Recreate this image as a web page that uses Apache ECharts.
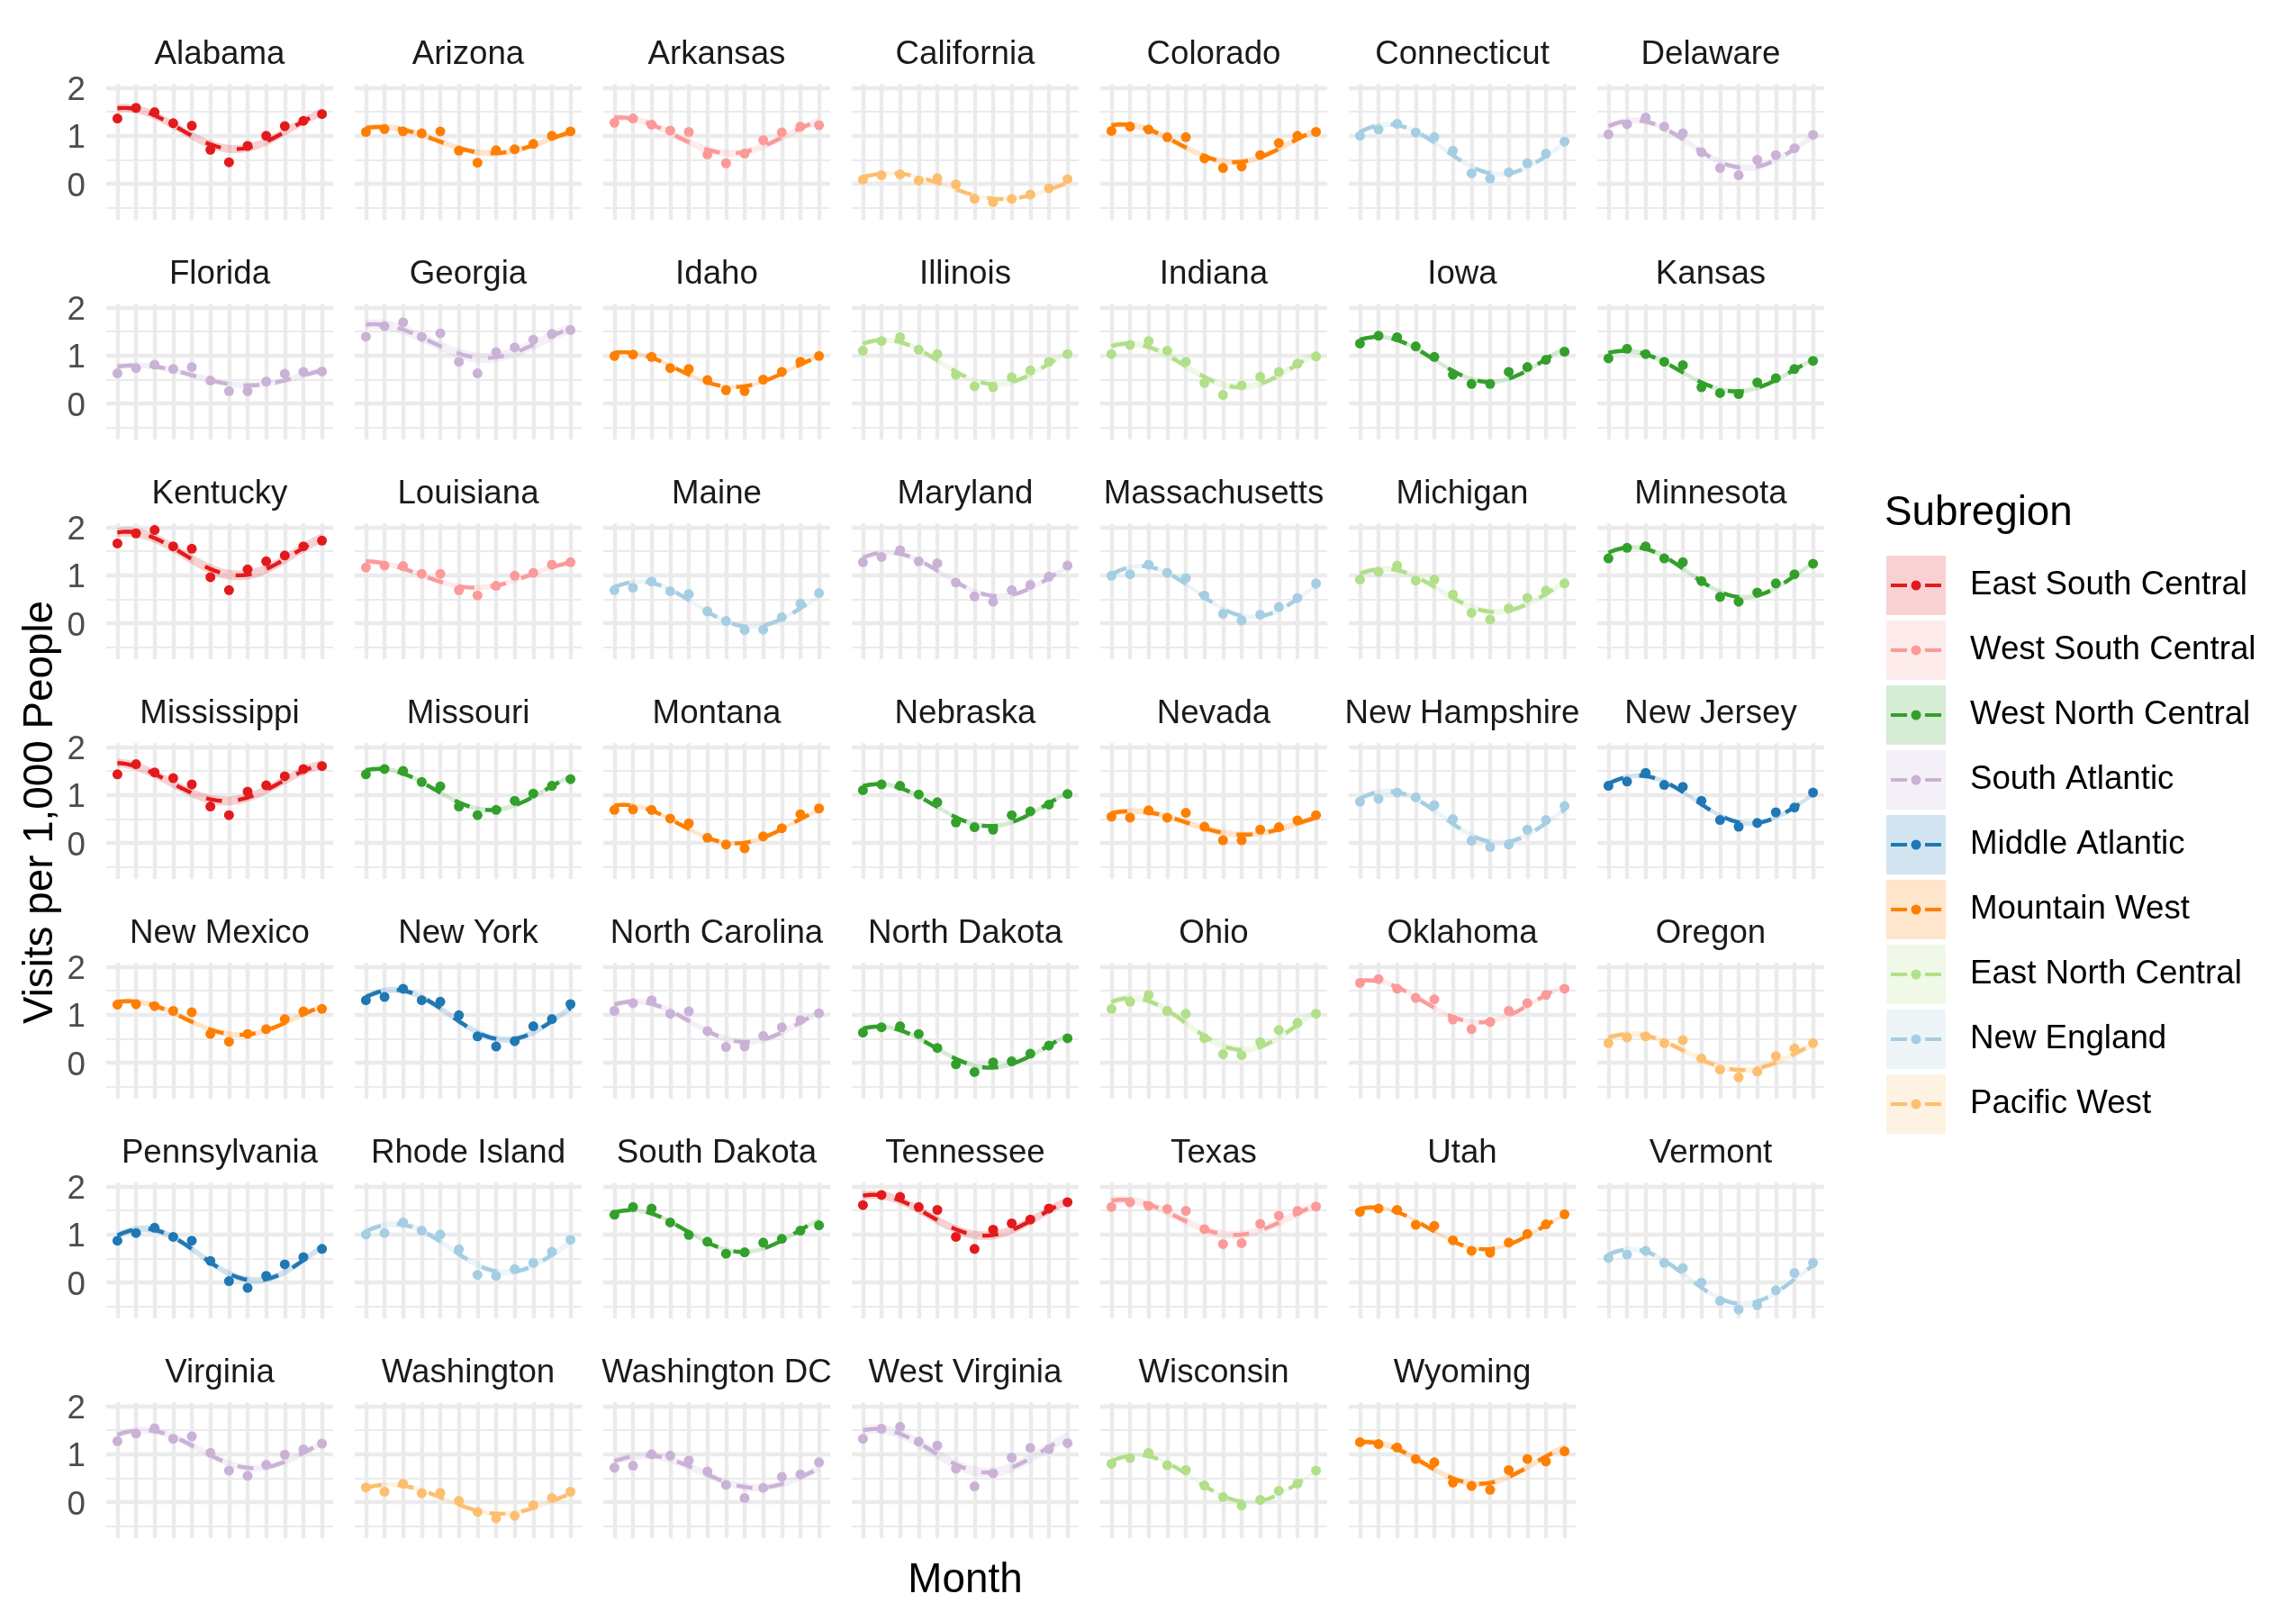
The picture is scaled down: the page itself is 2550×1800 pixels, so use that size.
<!DOCTYPE html>
<html>
<head>
<meta charset="utf-8">
<script src="https://cdn.jsdelivr.net/npm/echarts@6/dist/echarts.min.js"></script>
<style>
html,body{margin:0;padding:0;background:#ffffff;}
#chart{width:2550px;height:1800px;}
</style>
</head>
<body>
<div id="chart"></div>
<script>
// ---------------- data ----------------
const MONTHS = [1,2,3,4,5,6,7,8,9,10,11,12];
const Y_LABELS = [0,1,2];
const Y_MAJOR = [0,1,2];
const Y_MINOR = [-0.5,0.5,1.5];

const SUBREGIONS = ["East South Central","West South Central","West North Central","South Atlantic","Middle Atlantic","Mountain West","East North Central","New England","Pacific West"];
const SUBREGION_COLORS = ["#E31A1C","#FB9A99","#33A02C","#CAB2D6","#1F78B4","#FF7F00","#B2DF8A","#A6CEE3","#FDBF6F"];

const STATES = ["Alabama","Arizona","Arkansas","California","Colorado","Connecticut","Delaware",
"Florida","Georgia","Idaho","Illinois","Indiana","Iowa","Kansas",
"Kentucky","Louisiana","Maine","Maryland","Massachusetts","Michigan","Minnesota",
"Mississippi","Missouri","Montana","Nebraska","Nevada","New Hampshire","New Jersey",
"New Mexico","New York","North Carolina","North Dakota","Ohio","Oklahoma","Oregon",
"Pennsylvania","Rhode Island","South Dakota","Tennessee","Texas","Utah","Vermont",
"Virginia","Washington","Washington DC","West Virginia","Wisconsin","Wyoming"];

const STATE_SUBREGION = ["East South Central","Mountain West","West South Central","Pacific West","Mountain West","New England","South Atlantic",
"South Atlantic","South Atlantic","Mountain West","East North Central","East North Central","West North Central","West North Central",
"East South Central","West South Central","New England","South Atlantic","New England","East North Central","West North Central",
"East South Central","West North Central","Mountain West","West North Central","Mountain West","New England","Middle Atlantic",
"Mountain West","Middle Atlantic","South Atlantic","West North Central","East North Central","West South Central","Pacific West",
"Middle Atlantic","New England","West North Central","East South Central","West South Central","Mountain West","New England",
"South Atlantic","Pacific West","South Atlantic","South Atlantic","East North Central","Mountain West"];

const alabama       = [1.36,1.58,1.49,1.26,1.21,0.71,0.45,0.79,1.00,1.20,1.31,1.45];
const arizona       = [1.08,1.14,1.09,1.05,1.09,0.69,0.44,0.70,0.72,0.83,1.00,1.09];
const arkansas      = [1.27,1.36,1.23,1.11,1.08,0.61,0.43,0.63,0.91,1.07,1.19,1.22];
const california    = [0.09,0.18,0.20,0.07,0.12,-0.01,-0.31,-0.38,-0.31,-0.22,-0.09,0.10];
const colorado      = [1.10,1.19,1.13,0.97,0.97,0.53,0.33,0.36,0.60,0.85,1.00,1.08];
const connecticut   = [1.00,1.13,1.25,1.07,0.97,0.69,0.22,0.11,0.24,0.43,0.63,0.88];
const delaware      = [1.03,1.24,1.38,1.19,1.05,0.66,0.33,0.18,0.50,0.60,0.74,1.02];
const florida       = [0.63,0.74,0.81,0.72,0.76,0.48,0.26,0.26,0.46,0.62,0.66,0.67];
const georgia       = [1.39,1.61,1.69,1.39,1.46,0.87,0.63,1.07,1.17,1.33,1.45,1.53];
const idaho         = [0.99,1.02,0.97,0.74,0.72,0.49,0.28,0.26,0.50,0.66,0.87,0.99];
const illinois      = [1.10,1.30,1.38,1.12,1.03,0.60,0.36,0.34,0.55,0.69,0.87,1.03];
const indiana       = [1.03,1.22,1.30,1.10,0.87,0.43,0.18,0.38,0.56,0.66,0.83,0.98];
const iowa          = [1.25,1.41,1.38,1.19,0.97,0.60,0.41,0.41,0.66,0.76,0.91,1.08];
const kansas        = [0.94,1.14,1.03,0.87,0.80,0.34,0.22,0.20,0.44,0.53,0.72,0.89];
const kentucky      = [1.66,1.87,1.94,1.60,1.55,0.96,0.69,1.12,1.29,1.41,1.60,1.72];
const louisiana     = [1.16,1.20,1.19,1.03,1.03,0.69,0.58,0.78,0.99,1.05,1.22,1.27];
const maine         = [0.69,0.74,0.87,0.67,0.61,0.25,0.05,-0.14,-0.13,0.13,0.41,0.63];
const maryland      = [1.27,1.38,1.52,1.29,1.25,0.85,0.56,0.45,0.69,0.80,0.97,1.20];
const massachusetts = [0.99,1.02,1.22,1.05,0.94,0.58,0.20,0.06,0.18,0.34,0.53,0.83];
const michigan      = [0.91,1.07,1.20,0.89,0.91,0.60,0.22,0.08,0.31,0.53,0.68,0.83];
const minnesota     = [1.35,1.57,1.60,1.35,1.27,0.88,0.55,0.45,0.64,0.83,1.02,1.24];
const mississippi   = [1.43,1.64,1.47,1.35,1.22,0.76,0.58,1.07,1.20,1.39,1.54,1.60];
const missouri      = [1.43,1.54,1.50,1.27,1.18,0.76,0.58,0.69,0.88,1.03,1.19,1.33];
const montana       = [0.69,0.70,0.69,0.51,0.41,0.11,-0.03,-0.11,0.14,0.31,0.60,0.72];
const nebraska      = [1.10,1.22,1.19,1.01,0.85,0.43,0.33,0.28,0.58,0.66,0.80,1.02];
const nevada        = [0.55,0.53,0.68,0.53,0.63,0.34,0.06,0.06,0.28,0.33,0.47,0.58];
const newHampshire  = [0.86,0.92,1.05,0.95,0.79,0.50,0.05,-0.08,-0.03,0.28,0.48,0.77];
const newJersey     = [1.19,1.28,1.46,1.21,1.17,0.88,0.48,0.34,0.42,0.64,0.74,1.05];
const newMexico     = [1.21,1.22,1.18,1.08,1.05,0.60,0.44,0.60,0.70,0.91,1.07,1.12];
const newYork       = [1.30,1.37,1.54,1.30,1.27,0.99,0.55,0.34,0.45,0.76,0.91,1.22];
const northCarolina = [1.08,1.24,1.30,1.02,1.07,0.66,0.33,0.34,0.56,0.74,0.89,1.03];
const northDakota   = [0.63,0.74,0.76,0.60,0.31,-0.03,-0.19,0.01,0.03,0.19,0.36,0.51];
const ohio          = [1.12,1.27,1.41,1.08,1.02,0.51,0.18,0.16,0.43,0.68,0.83,1.02];
const oklahoma      = [1.66,1.74,1.54,1.35,1.32,0.90,0.70,0.85,1.08,1.24,1.41,1.54];
const oregon        = [0.41,0.53,0.55,0.41,0.47,0.09,-0.14,-0.30,-0.18,0.14,0.30,0.41];
const pennsylvania  = [0.87,1.03,1.14,0.95,0.87,0.45,0.03,-0.11,0.14,0.38,0.53,0.70];
const rhodeIsland   = [1.00,1.03,1.25,1.08,1.00,0.69,0.16,0.14,0.28,0.41,0.64,0.89];
const southDakota   = [1.41,1.57,1.54,1.25,0.99,0.85,0.60,0.63,0.83,0.91,1.08,1.19];
const tennessee     = [1.61,1.82,1.78,1.57,1.51,0.95,0.70,1.10,1.23,1.31,1.54,1.67];
const texas         = [1.57,1.67,1.59,1.53,1.49,1.11,0.80,0.82,1.22,1.39,1.49,1.58];
const utah          = [1.47,1.54,1.51,1.20,1.18,0.88,0.66,0.62,0.83,1.01,1.21,1.42];
const vermont       = [0.51,0.58,0.66,0.41,0.30,0.00,-0.38,-0.56,-0.47,-0.16,0.20,0.41];
const virginia      = [1.27,1.43,1.54,1.32,1.37,1.03,0.66,0.55,0.78,0.99,1.10,1.22];
const washington    = [0.31,0.22,0.39,0.19,0.20,0.03,-0.20,-0.33,-0.28,-0.06,0.09,0.22];
const washingtonDC  = [0.72,0.76,1.00,0.97,0.87,0.64,0.36,0.09,0.30,0.53,0.58,0.83];
const westVirginia  = [1.32,1.53,1.57,1.26,1.18,0.70,0.33,0.60,0.93,1.13,1.10,1.23];
const wisconsin     = [0.80,0.92,1.03,0.77,0.67,0.35,0.11,-0.07,0.05,0.24,0.39,0.66];
const wyoming       = [1.25,1.21,1.14,0.90,0.83,0.41,0.34,0.26,0.67,0.90,0.85,1.06];

const VISITS = [alabama,arizona,arkansas,california,colorado,connecticut,delaware,
florida,georgia,idaho,illinois,indiana,iowa,kansas,
kentucky,louisiana,maine,maryland,massachusetts,michigan,minnesota,
mississippi,missouri,montana,nebraska,nevada,newHampshire,newJersey,
newMexico,newYork,northCarolina,northDakota,ohio,oklahoma,oregon,
pennsylvania,rhodeIsland,southDakota,tennessee,texas,utah,vermont,
virginia,washington,washingtonDC,westVirginia,wisconsin,wyoming];

// ---------------- smoother: lm(y ~ sin(2*pi*x/12) + cos(2*pi*x/12)) with confidence band ----------------
const BAND_Z = 1.036433; // normal quantile for the band level used (~70%)
function solve3(A, b) {
  const M = A.map((r, i) => r.concat([b[i]]));
  for (let c = 0; c < 3; c++) {
    let p = c;
    for (let r = c + 1; r < 3; r++) if (Math.abs(M[r][c]) > Math.abs(M[p][c])) p = r;
    const tmp = M[c]; M[c] = M[p]; M[p] = tmp;
    for (let r = 0; r < 3; r++) {
      if (r === c) continue;
      const f = M[r][c] / M[c][c];
      for (let k = c; k < 4; k++) M[r][k] -= f * M[c][k];
    }
  }
  return [M[0][3] / M[0][0], M[1][3] / M[1][1], M[2][3] / M[2][2]];
}
function qtFromZ(z, df) {
  const z3 = z*z*z, z5 = z3*z*z, z7 = z5*z*z, z9 = z7*z*z;
  const g1 = (z3 + z) / 4, g2 = (5*z5 + 16*z3 + 3*z) / 96, g3 = (3*z7 + 19*z5 + 17*z3 - 15*z) / 384;
  const g4 = (79*z9 + 776*z7 + 1482*z5 - 1920*z3 - 945*z) / 92160;
  return z + g1/df + g2/(df*df) + g3/Math.pow(df,3) + g4/Math.pow(df,4);
}
function harmonicSmooth(xs, ys, gridXs, period) {
  const basis = x => [1, Math.sin(2 * Math.PI * x / period), Math.cos(2 * Math.PI * x / period)];
  const n = xs.length, p = 3;
  const XtX = [[0,0,0],[0,0,0],[0,0,0]], Xty = [0,0,0];
  xs.forEach((x, i) => {
    const f = basis(x);
    for (let a = 0; a < p; a++) { Xty[a] += f[a] * ys[i]; for (let b = 0; b < p; b++) XtX[a][b] += f[a] * f[b]; }
  });
  const inv = [solve3(XtX, [1,0,0]), solve3(XtX, [0,1,0]), solve3(XtX, [0,0,1])];
  const beta = [0,1,2].map(a => inv[a].reduce((s, v, b) => s + v * Xty[b], 0));
  const pred = x => basis(x).reduce((s, v, a) => s + v * beta[a], 0);
  const rss = xs.reduce((s, x, i) => s + (ys[i] - pred(x)) ** 2, 0);
  const sigma = Math.sqrt(rss / (n - p));
  const tq = qtFromZ(BAND_Z, n - p);
  return gridXs.map(g => {
    const f = basis(g);
    let v = 0;
    for (let a = 0; a < p; a++) for (let b = 0; b < p; b++) v += f[a] * inv[a][b] * f[b];
    const fit = pred(g), se = sigma * Math.sqrt(v);
    return { x: g, fit: fit, lo: fit - tq * se, hi: fit + tq * se };
  });
}

// ---------------- layout ----------------
const FONT = '"Liberation Sans", Arial, Helvetica, sans-serif';
const NCOL = 7;
const P_LEFT0 = 118, P_COLSTEP = 276, P_W = 252;
const P_TOP0 = 93.3, P_ROWSTEP = 244, P_H = 150.7;
const X_MIN = 0.4, X_MAX = 12.6, Y_MIN = -0.744, Y_MAX = 2.075;
const FIT_N = 80;
const FIT_GRID = [];
for (let k = 0; k < FIT_N; k++) FIT_GRID.push(MONTHS[0] + (MONTHS[MONTHS.length - 1] - MONTHS[0]) * k / (FIT_N - 1));

function rgba(hex, a) {
  const n = parseInt(hex.slice(1), 16);
  return 'rgba(' + ((n >> 16) & 255) + ',' + ((n >> 8) & 255) + ',' + (n & 255) + ',' + a + ')';
}
function colorOf(sub) { return SUBREGION_COLORS[SUBREGIONS.indexOf(sub)]; }

const grids = [], xAxes = [], yAxes = [], series = [], graphics = [];

STATES.forEach((state, i) => {
  const r = Math.floor(i / NCOL), c = i % NCOL;
  const left = P_LEFT0 + c * P_COLSTEP, top = P_TOP0 + r * P_ROWSTEP;
  const sub = STATE_SUBREGION[i];
  const col = colorOf(sub);
  const vals = VISITS[i];

  grids.push({ left: left, top: top, width: P_W, height: P_H, containLabel: false, outerBoundsMode: 'none' });
  xAxes.push({ gridIndex: i, type: 'value', min: X_MIN, max: X_MAX,
    axisLine: { show: false }, axisTick: { show: false }, axisLabel: { show: false }, splitLine: { show: false } });
  yAxes.push({ gridIndex: i, type: 'value', min: Y_MIN, max: Y_MAX,
    axisLine: { show: false }, axisTick: { show: false }, splitLine: { show: false },
    axisLabel: { show: c === 0, customValues: Y_LABELS, fontSize: 36.7, color: '#4D4D4D', fontFamily: FONT,
      margin: 23, formatter: '{v|{value}}',
      rich: { v: { fontSize: 36.7, color: '#4D4D4D', fontFamily: FONT, padding: [7, 0, 0, 0] } } } });

  // panel grid lines (kept beneath the data)
  series.push({
    name: 'grid-' + i, type: 'scatter', xAxisIndex: i, yAxisIndex: i, data: [], z: 0, silent: true,
    markLine: {
      z: 0, silent: true, animation: false, symbol: ['none', 'none'], label: { show: false },
      emphasis: { disabled: true },
      lineStyle: { color: '#EBEBEB', type: 'solid', width: 4.45, opacity: 1 },
      data: MONTHS.map(m => ({ xAxis: m }))
        .concat(Y_MAJOR.map(v => ({ yAxis: v })))
        .concat(Y_MINOR.map(v => ({ yAxis: v, lineStyle: { color: '#EBEBEB', type: 'solid', width: 2.2 } })))
    }
  });

  const band = harmonicSmooth(MONTHS, vals, FIT_GRID, 12);
  const ribbonFill = rgba(col, 0.2);

  // confidence ribbon: one polygon through the axis scales
  series.push({
    name: 'ribbon-' + i, type: 'custom', xAxisIndex: i, yAxisIndex: i, silent: true, z: 2,
    data: band.map(b => [b.x, b.lo, b.hi]),
    encode: { x: 0, y: [1, 2] },
    renderItem: function (params, api) {
      if (params.dataIndex !== 0) return null;
      const pts = [];
      band.forEach(b => pts.push(api.coord([b.x, b.hi])));
      for (let k = band.length - 1; k >= 0; k--) pts.push(api.coord([band[k].x, band[k].lo]));
      return { type: 'polygon', shape: { points: pts }, style: { fill: ribbonFill, stroke: null } };
    }
  });
  // monthly points (filled dots)
  series.push({
    name: sub, type: 'custom', xAxisIndex: i, yAxisIndex: i, silent: true, z: 3,
    itemStyle: { color: col },
    data: MONTHS.map((m, k) => [m, vals[k]]),
    encode: { x: 0, y: 1 },
    renderItem: function (params, api) {
      const p = api.coord([api.value(0), api.value(1)]);
      return { type: 'circle', shape: { cx: p[0], cy: p[1], r: 5.5 }, style: { fill: col, stroke: null } };
    }
  });
  // fitted dashed curve
  series.push({
    name: 'fit-' + i, type: 'line', xAxisIndex: i, yAxisIndex: i,
    data: band.map(b => [b.x, b.fit]), symbol: 'none', showSymbol: false, silent: true,
    lineStyle: { color: col, width: 4.45, type: [17.8, 17.8], cap: 'butt' }, z: 4
  });

  // strip label
  graphics.push({
    type: 'text', x: left + P_W / 2, y: top - 32, silent: true, z: 5,
    style: { text: state, fontSize: 36.7, fontFamily: FONT, fill: '#1A1A1A',
      align: 'center', verticalAlign: 'middle', textAlign: 'center', textVerticalAlign: 'middle' }
  });
});

// axis titles
graphics.push({
  type: 'text', x: 1072, y: 1755, silent: true, z: 5,
  style: { text: 'Month', fontSize: 45.8, fontFamily: FONT, fill: '#000000',
    align: 'center', verticalAlign: 'middle', textAlign: 'center', textVerticalAlign: 'middle' }
});
graphics.push({
  type: 'text', x: 45, y: 902, rotation: Math.PI / 2, silent: true, z: 5,
  style: { text: 'Visits per 1,000 People', fontSize: 45.8, fontFamily: FONT, fill: '#000000',
    align: 'center', verticalAlign: 'middle', textAlign: 'center', textVerticalAlign: 'middle' }
});
// legend title
graphics.push({
  type: 'text', x: 2093, y: 570, silent: true, z: 5,
  style: { text: 'Subregion', fontSize: 45.8, fontFamily: FONT, fill: '#000000',
    align: 'left', verticalAlign: 'middle', textAlign: 'left', textVerticalAlign: 'middle' }
});
// legend key backgrounds (ribbon fill)
const LEG_LEFT = 2095, LEG_TOP = 617, KEY = 66, KEY_GAP = 6;
SUBREGIONS.forEach((s, j) => {
  graphics.push({
    type: 'rect', silent: true, z: 1,
    shape: { x: LEG_LEFT, y: LEG_TOP + j * (KEY + KEY_GAP), width: KEY, height: KEY },
    style: { fill: rgba(SUBREGION_COLORS[j], 0.2) }
  });
});

const KEY_ICON = 'path://M0,0h0.05v0.05h-0.05Z M65.95,65.95h0.05v0.05h-0.05Z M5,31h18v4h-18Z M43,31h18v4h-18Z M27.5,33a5.5,5.5 0 1 0 11,0a5.5,5.5 0 1 0 -11,0Z';

const option = {
  backgroundColor: '#ffffff',
  animation: false,
  grid: grids,
  xAxis: xAxes,
  yAxis: yAxes,
  legend: {
    data: SUBREGIONS,
    orient: 'vertical',
    left: LEG_LEFT, top: LEG_TOP,
    padding: 0,
    itemWidth: KEY, itemHeight: KEY, itemGap: KEY_GAP,
    icon: KEY_ICON,
    itemStyle: { borderWidth: 0 },
    selectedMode: false,
    z: 10,
    textStyle: { fontSize: 36.7, fontFamily: FONT, color: '#000000', padding: [0, 0, 0, 22] }
  },
  graphic: { elements: graphics },
  series: series
};

const chart = echarts.init(document.getElementById('chart'), null, { renderer: 'canvas', width: 2550, height: 1800 });
chart.setOption(option);
</script>
</body>
</html>
